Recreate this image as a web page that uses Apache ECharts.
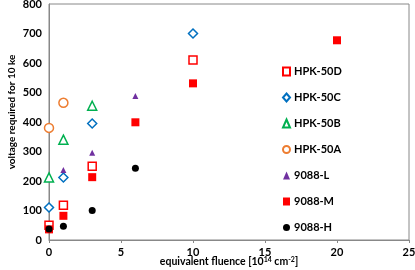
<!DOCTYPE html>
<html><head><meta charset="utf-8">
<script src="https://cdn.jsdelivr.net/npm/echarts@6/dist/echarts.min.js"></script>
<style>html,body{margin:0;padding:0;background:#fff}#c{width:415px;height:270px}</style>
</head><body><div id="c"></div>
<script>
const hpk50D = [[0, 50], [1, 118], [3, 250], [10, 610]];
const hpk50C = [[0, 110], [1, 212], [3, 395], [10, 700]];
const hpk50B = [[0, 212], [1, 340], [3, 455]];
const hpk50A = [[0, 380], [1, 465]];
const l9088 = [[1, 237], [3, 296], [6, 488]];
const m9088 = [[0, 36], [1, 82], [3, 213], [6, 399], [10, 531], [20, 677]];
const h9088 = [[0, 37], [1, 47], [3, 100], [6, 243]];
const xTicks = [0, 5, 10, 15, 20, 25];
const yTicks = [0, 100, 200, 300, 400, 500, 600, 700, 800];

const FONT = 'Lato';
const chart = echarts.init(document.getElementById('c'));
function open(name, data, symbol, size, color) {
  return { name, type: 'scatter', data, symbol, symbolSize: size, clip: false,
    itemStyle: { color: '#fff', borderColor: color, borderWidth: 1.5, opacity: 1 } };
}
function filled(name, data, symbol, size, color) {
  return { name, type: 'scatter', data, symbol, symbolSize: size, clip: false,
    itemStyle: { color: color, opacity: 1 } };
}
chart.setOption({
  animation: false,
  textStyle: { fontFamily: FONT },
  grid: { left: 49, right: 6, top: 4, bottom: 30, show: true, borderColor: '#888', borderWidth: 1,
    containLabel: false, outerBoundsMode: 'none' },
  legend: {
    orient: 'vertical', left: 277, top: 61, itemWidth: 7, itemHeight: 8, itemGap: 15,
    textStyle: { fontFamily: FONT, fontSize: 11, fontWeight: 'bold', color: '#000', padding: [0, 0, 0, -1] },
    data: ['HPK-50D', 'HPK-50C', 'HPK-50B', 'HPK-50A', '9088-L', '9088-M', '9088-H']
  },
  xAxis: {
    type: 'value', min: xTicks[0], max: xTicks[xTicks.length - 1], interval: 5,
    splitLine: { show: false },
    axisLine: { lineStyle: { color: '#888' } },
    axisTick: { show: true, length: 3, lineStyle: { color: '#888' } },
    axisLabel: { fontFamily: FONT, fontSize: 11, fontWeight: 'bold', color: '#000', margin: 7 },
    name: 'equivalent fluence [10{s|14} cm{s|-2}]', nameLocation: 'middle', nameGap: 16,
    nameMoveOverlap: false,
    nameTextStyle: { fontFamily: FONT, fontSize: 10.5, fontWeight: 'bold', color: '#000', lineHeight: 12,
      rich: { s: { fontFamily: FONT, fontSize: 7, fontWeight: 'bold', color: '#000', verticalAlign: 'top', lineHeight: 8 } } }
  },
  yAxis: {
    type: 'value', min: yTicks[0], max: yTicks[yTicks.length - 1], interval: 100,
    splitLine: { show: false },
    axisLine: { show: true, lineStyle: { color: '#888' } },
    axisTick: { show: false },
    axisLabel: { fontFamily: FONT, fontSize: 11, fontWeight: 'bold', color: '#000', margin: 7 },
    name: 'voltage required for 10 ke', nameLocation: 'middle', nameGap: 32, nameRotate: 90,
    nameMoveOverlap: false,
    nameTextStyle: { fontFamily: FONT, fontSize: 10, fontWeight: 'bold', color: '#000', padding: [0, 0, 0, 20] }
  },
  series: [
    open('HPK-50D', hpk50D, 'rect', 8, '#ff0000'),
    open('HPK-50C', hpk50C, 'diamond', 9, '#0070c0'),
    open('HPK-50B', hpk50B, 'triangle', 9, '#00b050'),
    open('HPK-50A', hpk50A, 'circle', 9, '#ed7d31'),
    filled('9088-L', l9088, 'triangle', 6, '#7030a0'),
    filled('9088-M', m9088, 'rect', 8, '#ff0000'),
    filled('9088-H', h9088, 'circle', 7, '#000000')
  ]
});
</script></body></html>
